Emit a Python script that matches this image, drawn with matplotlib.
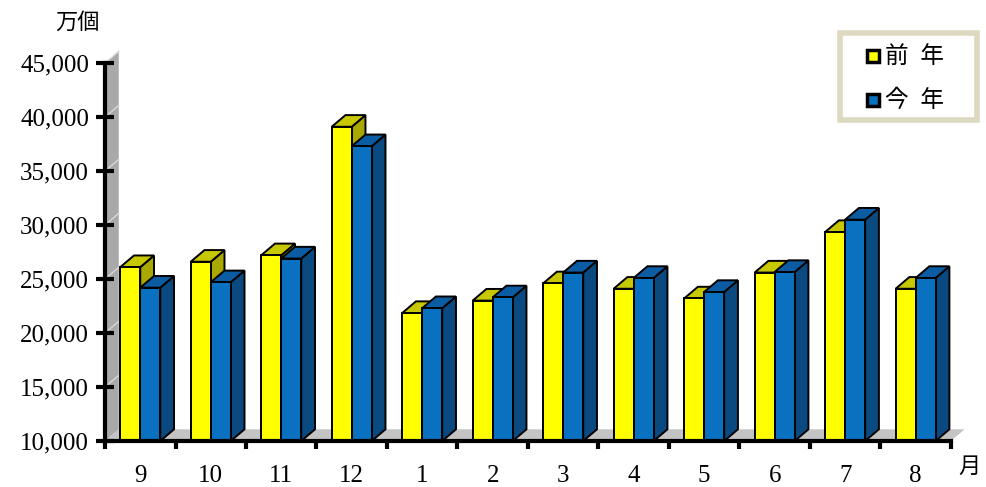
import numpy as np
import matplotlib.pyplot as plt
from matplotlib.patches import Polygon, Rectangle

plt.rcParams['font.family'] = ['Liberation Serif', 'Noto Sans CJK JP']

# datos (万個)
meses = ['9', '10', '11', '12', '1', '2', '3', '4', '5', '6', '7', '8']
zennen = [26100, 26600, 27200, 39100, 21850, 23000, 24600, 24100, 23200, 25600, 29350, 24100]
konnen = [24200, 24700, 26900, 37300, 22300, 23300, 25600, 25100, 23800, 25650, 30500, 25100]
yticks = [10000, 15000, 20000, 25000, 30000, 35000, 40000, 45000]
series = ['前\u2002年', '今\u2002年']

amarillo = ('#FFFF00', '#C8C800', '#A8A800')
azul = ('#0A70C0', '#0C5CA4', '#0A4A80')

W, H = 987, 487
fig = plt.figure(figsize=(W / 100, H / 100), dpi=100)
ax = fig.add_axes([0.1064, 0.0945, 0.857, 0.776])
ax.set_xlim(0, 12)
ax.set_ylim(10000, 45000)

ancho = 0.284
DX, DY = 0.195, 1080   # profundidad del efecto 3D
base = 10000

# pared y piso grises
pared = Polygon([(0, base), (0, 45000), (DX, 45000 + DY), (DX, base + DY)],
                closed=True, fc='#A9A9A9', ec='none', zorder=0, clip_on=False)
ax.add_patch(pared)
for t in yticks[1:]:
    ax.plot([0, DX], [t, t + DY], color='#D8D8D8', lw=1, zorder=0.5, clip_on=False)
piso = Polygon([(0, base), (12, base), (12 + DX, base + DY), (DX, base + DY)],
               closed=True, fc='#C4C4C4', ec='none', zorder=0.4, clip_on=False)
ax.add_patch(piso)


def caja(x0, v, colores, z):
    frente, arriba, lado = colores
    kw = dict(closed=True, ec='black', lw=1.4, zorder=z, clip_on=False,
              joinstyle='miter')
    ax.add_patch(Polygon([(x0 + ancho, base), (x0 + ancho, v),
                          (x0 + ancho + DX, v + DY), (x0 + ancho + DX, base + DY)],
                         fc=lado, **kw))
    ax.add_patch(Polygon([(x0, v), (x0 + ancho, v), (x0 + ancho + DX, v + DY),
                          (x0 + DX, v + DY)], fc=arriba, **kw))
    ax.add_patch(Rectangle((x0, base), ancho, v - base, fc=frente, ec='black',
                           lw=1.4, zorder=z, clip_on=False))


x = np.arange(len(meses)) + 0.5
for i in range(len(meses)):
    caja(x[i] - ancho, zennen[i], amarillo, 2 + i * 0.1)
    caja(x[i], konnen[i], azul, 2.05 + i * 0.1)

# ejes
for s in ['top', 'right']:
    ax.spines[s].set_visible(False)
ax.spines['left'].set_linewidth(3)
ax.spines['bottom'].set_linewidth(3)
ax.spines['left'].set_zorder(5)
ax.spines['bottom'].set_zorder(5)

ax.set_yticks(yticks)
ax.set_yticklabels(['{:,}'.format(t) for t in yticks])
ax.tick_params(axis='y', direction='inout', length=13, width=3, pad=5,
               labelsize=18)
ax.set_xticks(np.arange(13))
ax.set_xticklabels([])
ax.set_xticks(x, minor=True)
ax.set_xticklabels(meses, minor=True)
ax.tick_params(axis='x', which='major', direction='out', length=6, width=3)
ax.tick_params(axis='x', which='minor', length=0, pad=17, labelsize=18)

fig.text(0.079, 0.955, '万個', fontsize=16, family='Noto Sans CJK JP',
         ha='center', va='center')
fig.text(0.993, 0.042, '月', fontsize=16, family='Noto Sans CJK JP',
         ha='right', va='center')

# leyenda hecha a mano (coordenadas en pixeles de la figura)
def fx(p):
    return p / W


def fy(p):
    return 1 - p / H


marco = Rectangle((fx(840), fy(120)), fx(137), 87 / H, transform=fig.transFigure,
                  fc='white', ec='#DDD8C0', lw=4, zorder=10)
fig.add_artist(marco)
for nombre, col, yy in zip(series, [amarillo[0], azul[0]], [56, 100]):
    fig.add_artist(Rectangle((fx(867), fy(yy + 6)), 12 / W, 12 / H,
                             transform=fig.transFigure, fc=col, ec='black',
                             lw=2.5, zorder=11))
    fig.text(fx(885), fy(yy), nombre, fontsize=17, va='center', ha='left',
             family=['Noto Sans CJK JP', 'DejaVu Sans'], zorder=11)

plt.savefig('out.png', dpi=100)
